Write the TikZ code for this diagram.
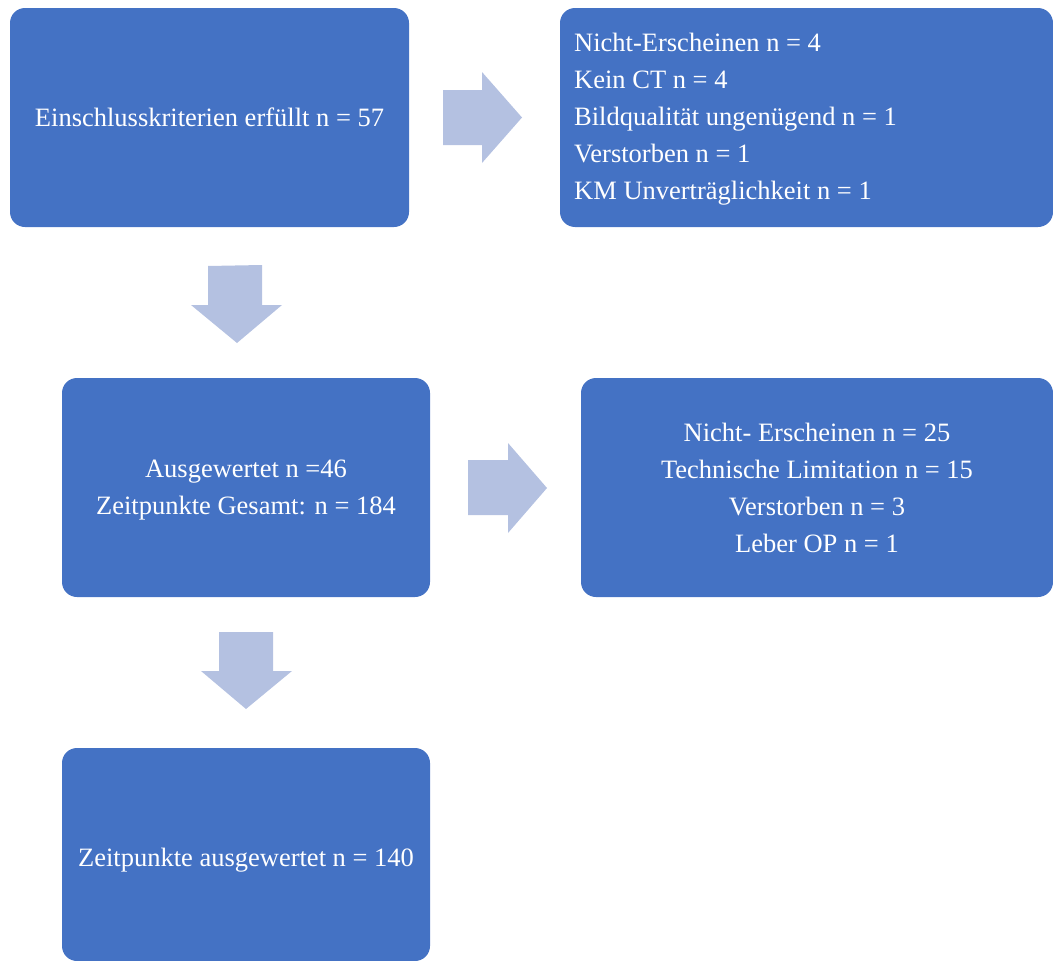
\documentclass[tikz,border=0pt]{standalone}
\usepackage{fontspec}
\setmainfont{Liberation Serif}
\definecolor{boxblue}{HTML}{4472C4}
\definecolor{arrowblue}{HTML}{B4C1E1}
\begin{document}
\begin{tikzpicture}[x=1pt,y=-1pt,
  box/.style={fill=boxblue, draw=none, rounded corners=15pt, text=white,
    font=\fontsize{26.5}{37}\selectfont, align=center, inner sep=0pt},
  boxtext/.style={text=white, font=\fontsize{26.5}{37}\selectfont, inner sep=0pt},
  blockarrow/.style={fill=arrowblue, draw=none}]
\useasboundingbox (0,0) rectangle (1053,961);
\node[box, minimum width=399pt, minimum height=219pt] (b1) at (209.5,117.5) {Einschlusskriterien erfüllt n = 57};
\node[box, minimum width=493pt, minimum height=219pt] (b2) at (806.5,117.5) {};
\node[boxtext, anchor=west, align=left] (b2t) at (574,119.5)
  {Nicht-Erscheinen n = 4\\Kein CT n = 4\\Bildqualität ungenügend n = 1\\Verstorben n = 1\\KM Unverträglichkeit n = 1};
\node[box, minimum width=368pt, minimum height=219pt] (b3) at (246,487.5) {};
\node[boxtext, align=center] (b3t) at (246,490.5) {Ausgewertet n =46\\Zeitpunkte Gesamt: n = 184};
\node[box, minimum width=472pt, minimum height=219pt] (b4) at (817,487.5)
  {Nicht- Erscheinen n = 25\\Technische Limitation n = 15\\Verstorben n = 3\\Leber OP n = 1};
\node[box, minimum width=368pt, minimum height=213pt] (b5) at (246,854.5) {};
\node[boxtext] (b5t) at (246,860.5) {Zeitpunkte ausgewertet n = 140};
% block arrows
\fill[blockarrow] (443,90) -- (482,90) -- (482,72) -- (522,117.5) -- (482,163) -- (482,145) -- (443,145) -- cycle;
\fill[blockarrow] (208,266) -- (262,265) -- (262,305) -- (282,305) -- (237,343) -- (191,305) -- (208,305) -- cycle;
\fill[blockarrow] (468,460) -- (508,460) -- (508,443) -- (547,488) -- (508,533) -- (508,515) -- (468,515) -- cycle;
\fill[blockarrow] (219,632) -- (273,632) -- (273,671) -- (292,671) -- (246,709) -- (201,671) -- (219,671) -- cycle;
\end{tikzpicture}
\end{document}
